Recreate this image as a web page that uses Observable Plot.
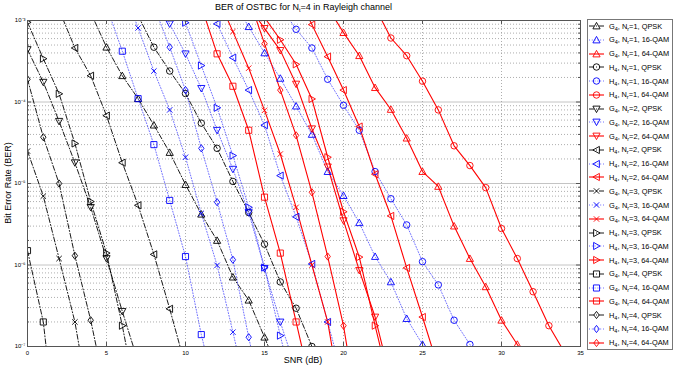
<!DOCTYPE html>
<html><head><meta charset="utf-8">
<script src="https://cdn.jsdelivr.net/npm/d3@7"></script>
<script src="https://cdn.jsdelivr.net/npm/@observablehq/plot@0.6"></script>
<style>
body{margin:0;background:#fff;font-family:"Liberation Sans",Arial,sans-serif;}
#wrap{position:relative;width:673px;height:371px;overflow:hidden;background:#fff;}
#chart{position:absolute;left:0;top:0;}
.lbl{position:absolute;font-size:9px;color:#000;white-space:nowrap;text-align:center;}
sub{font-size:5.5px;vertical-align:-2px;line-height:0;}
#legend{position:absolute;left:587px;top:19px;width:84px;height:329px;border:1px solid #777;background:#fff;}
.row{position:absolute;left:0;height:12px;display:flex;align-items:center;font-size:7.4px;white-space:nowrap;}
.row svg{display:block;margin-right:1px;}
</style></head><body>
<div id="wrap">
  <div id="chart"></div>
  <div class="lbl" id="title" style="left:27px;width:553px;top:2px;">BER of OSTBC for N<sub>t</sub>=4 in Rayleigh channel</div>
  <div class="lbl" style="left:203px;width:200px;top:355px;">SNR (dB)</div>
  <div class="lbl" style="left:-92px;width:200px;top:178px;transform:rotate(-90deg);">Bit Error Rate (BER)</div>
  <div id="legend"></div>
</div>
<script>
// ---- data (BER vs SNR in dB, markers at integer SNR) ----
const modulations = ["QPSK", "16-QAM", "64-QAM"];
const xTicks = [0, 5, 10, 15, 20, 25, 30, 35];
const yTicks = [1e-7, 1e-6, 1e-5, 1e-4, 1e-3];
const yTickLabels = ["10\u207B\u2077", "10\u207B\u2076", "10\u207B\u2075", "10\u207B\u2074", "10\u207B\u00B3"];

const ber_G4_Nr1_QPSK  = [1.25e-3, 4.7e-4, 2.1e-4, 1.1e-4, 5.2e-5, 2.4e-5, 9.7e-6, 4.2e-6, 2.0e-6, 7.1e-7, 3.7e-7, 1.3e-7, 4.4e-8];
const ber_G4_Nr1_16QAM = [1.75e-3, 8.4e-4, 4.0e-4, 1.95e-4, 8.9e-5, 4.0e-5, 1.4e-5, 7.1e-6, 3.3e-6, 1.27e-6, 6.2e-7, 2.2e-7, 1.06e-7, 4.4e-8];
const ber_G4_Nr1_64QAM = [1.45e-3, 7.1e-4, 3.7e-4, 1.5e-4, 8.1e-5, 3.6e-5, 1.4e-5, 9.2e-6, 3.0e-6, 1.2e-6, 5.4e-7, 2.1e-7, 1.06e-7, 5.4e-8];
const ber_H4_Nr1_QPSK  = [1.15e-3, 4.7e-4, 2.4e-4, 1.27e-4, 5.5e-5, 2.7e-5, 1.06e-5, 4.4e-6, 1.8e-6, 6.2e-7, 2.95e-7, 1.0e-7];
const ber_H4_Nr1_16QAM = [1.5e-3, 7.8e-4, 4.6e-4, 1.9e-4, 9.1e-5, 4.5e-5, 1.4e-5, 6.5e-6, 3.1e-6, 1.1e-6, 5.7e-7, 2.1e-7, 1.06e-7, 4.4e-8];
const ber_H4_Nr1_64QAM = [1.45e-3, 6.1e-4, 3.7e-4, 1.8e-4, 8.0e-5, 2.9e-5, 1.66e-5, 8.9e-6, 2.8e-6, 1.2e-6, 4.7e-7, 1.8e-7, 8.4e-8];
const ber_G4_Nr2_QPSK  = [4.4e-4, 1.75e-4, 5.8e-5, 1.8e-5, 5.1e-6, 1.2e-6, 2.7e-7, 6.5e-8];
const ber_G4_Nr2_16QAM = [2.0e-3, 9.1e-4, 3.9e-4, 1.47e-4, 4.5e-5, 1.5e-5, 4.4e-6, 9.1e-7, 2.0e-7, 5.1e-8];
const ber_G4_Nr2_64QAM = [1.5e-3, 8.0e-4, 4.3e-4, 1.66e-4, 4.7e-5, 1.6e-5, 3.5e-6, 8.6e-7, 2.3e-7, 3.8e-8];
const ber_H4_Nr2_QPSK  = [1.35e-3, 4.6e-4, 2.1e-4, 6.8e-5, 1.8e-5, 5.4e-6, 1.35e-6, 2.9e-7, 5.7e-8];
const ber_H4_Nr2_16QAM = [2.2e-3, 9.1e-4, 3.5e-4, 1.4e-4, 5.2e-5, 1.25e-5, 3.9e-6, 1.03e-6, 2.0e-7, 3.8e-8];
const ber_H4_Nr2_64QAM = [2.2e-3, 8.9e-4, 3.6e-4, 1.4e-4, 5.0e-5, 1.3e-5, 4.0e-6, 9.2e-7, 2.3e-7, 5.5e-8];
const ber_G4_Nr3_QPSK  = [2.5e-5, 7.0e-6, 1.2e-6, 2.0e-7, 1.55e-8];
const ber_G4_Nr3_16QAM = [2.7e-3, 8.1e-4, 2.4e-4, 8.0e-5, 2.1e-5, 4.3e-6, 9.9e-7, 1.5e-7, 2.2e-8];
const ber_G4_Nr3_64QAM = [2.0e-3, 7.3e-4, 2.6e-4, 7.9e-5, 2.3e-5, 5.1e-6, 1.0e-6, 2.0e-7, 1.5e-8];
const ber_H4_Nr3_QPSK  = [9.5e-4, 3.4e-4, 1.26e-4, 3.1e-5, 6.0e-6, 1.4e-6, 1.8e-7, 1.8e-8];
const ber_H4_Nr3_16QAM = [2.7e-3, 9.4e-4, 2.8e-4, 8.5e-5, 2.2e-5, 5.1e-6, 9.3e-7, 1.36e-7, 2.2e-8];
const ber_H4_Nr3_64QAM = [1.09e-3, 5.8e-4, 2.9e-4, 1.09e-4, 2.1e-5, 4.5e-6, 1.25e-6, 1.8e-7, 2.9e-8];
const ber_G4_Nr4_QPSK  = [1.5e-6, 2.0e-7, 3.9e-9];
const ber_G4_Nr4_16QAM = [1.5e-3, 4.2e-4, 1.1e-4, 3.0e-5, 6.2e-6, 1.27e-6, 1.4e-7, 2.2e-8];
const ber_G4_Nr4_64QAM = [1.5e-3, 3.9e-4, 1.56e-4, 4.5e-5, 6.8e-6, 1.4e-6, 2.0e-7, 2.9e-8];
const ber_H4_Nr4_QPSK  = [1.9e-4, 3.7e-5, 1.0e-5, 1.3e-6, 2.1e-7, 2.5e-8];
const ber_H4_Nr4_16QAM = [1.5e-3, 4.7e-4, 1.4e-4, 2.7e-5, 5.9e-6, 1.16e-6, 1.3e-7, 1.6e-8];
const ber_H4_Nr4_64QAM = [1.9e-3, 5.2e-4, 1.4e-4, 3.9e-5, 7.8e-6, 1.27e-6, 1.8e-7, 1.2e-8];

// first SNR (dB) of each series, in legend order
const firstSNR = [4, 13, 19, 7, 16, 22, 0, 8, 14, 2, 11, 17, 0, 6, 12, 0, 9, 15, 0, 5, 11, 0, 8, 14];
const seriesCodes = ["G","G","G","H","H","H","G","G","G","H","H","H","G","G","G","H","H","H","G","G","G","H","H","H"];
const seriesNr =    [1,1,1,1,1,1,2,2,2,2,2,2,3,3,3,3,3,3,4,4,4,4,4,4];
const seriesBer = [ber_G4_Nr1_QPSK, ber_G4_Nr1_16QAM, ber_G4_Nr1_64QAM, ber_H4_Nr1_QPSK, ber_H4_Nr1_16QAM, ber_H4_Nr1_64QAM,
  ber_G4_Nr2_QPSK, ber_G4_Nr2_16QAM, ber_G4_Nr2_64QAM, ber_H4_Nr2_QPSK, ber_H4_Nr2_16QAM, ber_H4_Nr2_64QAM,
  ber_G4_Nr3_QPSK, ber_G4_Nr3_16QAM, ber_G4_Nr3_64QAM, ber_H4_Nr3_QPSK, ber_H4_Nr3_16QAM, ber_H4_Nr3_64QAM,
  ber_G4_Nr4_QPSK, ber_G4_Nr4_16QAM, ber_G4_Nr4_64QAM, ber_H4_Nr4_QPSK, ber_H4_Nr4_16QAM, ber_H4_Nr4_64QAM];

// ---- marker shapes (MATLAB-like) ----
function sym(drawFn){ return {draw(ctx, size){ const s = Math.sqrt(size/Math.PI); drawFn(ctx, s); }}; }
const symbols = {
  triUp: sym((c,s)=>{c.moveTo(0,-s);c.lineTo(s,0.8*s);c.lineTo(-s,0.8*s);c.closePath();}),
  triDown: sym((c,s)=>{c.moveTo(0,s);c.lineTo(s,-0.8*s);c.lineTo(-s,-0.8*s);c.closePath();}),
  triLeft: sym((c,s)=>{c.moveTo(-s,0);c.lineTo(0.8*s,-s);c.lineTo(0.8*s,s);c.closePath();}),
  triRight: sym((c,s)=>{c.moveTo(s,0);c.lineTo(-0.8*s,-s);c.lineTo(-0.8*s,s);c.closePath();}),
  circle: sym((c,s)=>{c.moveTo(0.9*s,0);c.arc(0,0,0.9*s,0,2*Math.PI);}),
  square: sym((c,s)=>{c.rect(-0.85*s,-0.85*s,1.7*s,1.7*s);}),
  diamond: sym((c,s)=>{c.moveTo(0,-s);c.lineTo(0.75*s,0);c.lineTo(0,s);c.lineTo(-0.75*s,0);c.closePath();}),
  cross: sym((c,s)=>{c.moveTo(-0.75*s,-0.75*s);c.lineTo(0.75*s,0.75*s);c.moveTo(0.75*s,-0.75*s);c.lineTo(-0.75*s,0.75*s);})
};
const markerOf = {G1:"triUp", H1:"circle", G2:"triDown", H2:"triLeft", G3:"cross", H3:"triRight", G4:"square", H4:"diamond"};
const styleOf = {
  "QPSK":   {stroke:"#000000", dash:"5,2,1,2", width:0.9, opacity:1},
  "16-QAM": {stroke:"#0000ff", dash:"1,1.8", width:0.75, opacity:0.75},
  "64-QAM": {stroke:"#ff0000", dash:null, width:1.1, opacity:1}
};

const series = seriesBer.map((ber, i) => {
  const mod = modulations[i % 3];
  return {
    code: seriesCodes[i], nr: seriesNr[i], mod,
    marker: symbols[markerOf[seriesCodes[i] + seriesNr[i]]],
    style: styleOf[mod],
    rows: ber.map((b, j) => ({snr: firstSNR[i] + j, ber: b}))
  };
});

// grid positions
const xGrid = xTicks.slice(1, -1);
const yDecadeGrid = yTicks.slice(1, -1);
const yMinor = [];
for (const d of yTicks.slice(0, -1)) for (let k = 2; k <= 9; k++) yMinor.push(d * k);

const W = 673, H = 371, mL = 27, mR = 93, mT = 20, mB = 25;
const innerW = W - mL - mR, innerH = H - mT - mB;

const marks = [
  Plot.ruleY(yMinor, {y: d => d, stroke: "#999", strokeDasharray: "1,2", strokeWidth: 0.8}),
  Plot.ruleY(yDecadeGrid, {y: d => d, stroke: "#c4c4c4", strokeWidth: 1}),
  Plot.ruleX(xGrid, {x: d => d, stroke: "#999", strokeDasharray: "1,2", strokeWidth: 0.8})
];
for (const s of series) {
  marks.push(Plot.line(s.rows, {x: "snr", y: "ber", stroke: s.style.stroke, strokeWidth: s.style.width,
    strokeOpacity: s.style.opacity, strokeDasharray: s.style.dash, clip: true}));
}
for (const s of series) {
  marks.push(Plot.dot(s.rows, {x: "snr", y: "ber", symbol: s.marker, r: 3.6, stroke: s.style.stroke,
    fill: "none", strokeWidth: 0.9, clip: true}));
}
marks.push(
  Plot.frame({stroke: "#555", strokeWidth: 1}),
  Plot.tickX(xTicks, {x: d => d, insetTop: innerH - 4, stroke: "#555"}),
  Plot.tickX(xTicks, {x: d => d, insetBottom: innerH - 4, stroke: "#555"}),
  Plot.tickY(yTicks, {y: d => d, insetRight: innerW - 4, stroke: "#555"}),
  Plot.tickY(yTicks, {y: d => d, insetLeft: innerW - 4, stroke: "#555"}),
  Plot.tickY(yMinor, {y: d => d, insetRight: innerW - 2, stroke: "#555"}),
  Plot.tickY(yMinor, {y: d => d, insetLeft: innerW - 2, stroke: "#555"}),
  Plot.axisX(xTicks, {tickSize: 0, tickPadding: 4, fontSize: 6, label: null}),
  Plot.axisY(yTicks, {tickSize: 0, tickPadding: 2, fontSize: 6, label: null,
    tickFormat: d => yTickLabels[yTicks.indexOf(d)]})
);

const chart = Plot.plot({
  width: W, height: H, marginLeft: mL, marginRight: mR, marginTop: mT, marginBottom: mB,
  x: {domain: [0, 35]},
  y: {type: "log", domain: [1e-7, 1e-3]},
  style: {fontFamily: "'Liberation Sans', Arial, sans-serif", background: "white", color: "#000"},
  marks
});
document.getElementById("chart").appendChild(chart);

// ---- legend ----
const leg = document.getElementById("legend");
series.forEach((s, i) => {
  const row = document.createElement("div");
  row.className = "row";
  row.style.top = (26 - 20 + i * 13.77 - 6) + "px";
  const svg = d3.create("svg").attr("width", 20).attr("height", 12);
  svg.append("line").attr("x1", 1).attr("x2", 16).attr("y1", 6).attr("y2", 6)
    .attr("stroke", s.style.stroke).attr("stroke-width", s.style.width)
    .attr("stroke-opacity", s.style.opacity)
    .attr("stroke-dasharray", s.style.dash);
  svg.append("path").attr("transform", "translate(8.5,6)")
    .attr("d", d3.symbol(s.marker, 3.6 * 3.6 * Math.PI)())
    .attr("fill", "none").attr("stroke", s.style.stroke).attr("stroke-width", 0.9);
  row.appendChild(svg.node());
  const t = document.createElement("span");
  t.innerHTML = `${s.code}<sub>4</sub>, N<sub>r</sub>=${s.nr}, ${s.mod}`;
  row.appendChild(t);
  leg.appendChild(row);
});
</script>
</body></html>
